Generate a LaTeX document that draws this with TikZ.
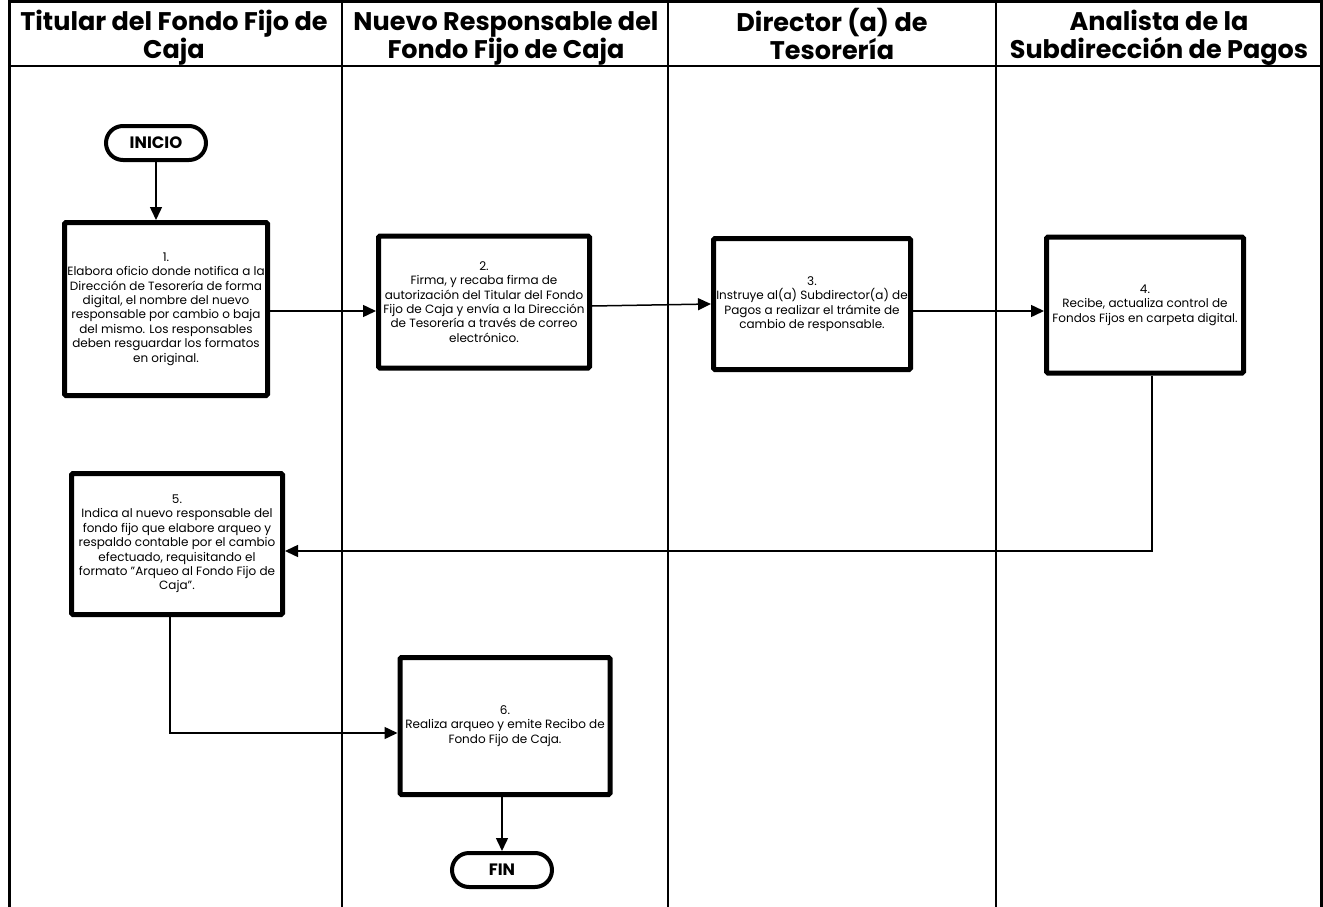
\documentclass[tikz,border=0pt]{standalone}
\usepackage{fontspec}
\setmainfont{Poppins}
\usetikzlibrary{arrows.meta,shapes.misc}
\newcommand\htop{\rule{0pt}{22pt}}
\newcommand\hbot{\rule[-10pt]{0pt}{10pt}}
\begin{document}
\begin{tikzpicture}[x=1pt,y=-1pt,
  lane/.style={line width=2pt},
  hdr/.style={font={\fontsize{25.5}{28}\selectfont\bfseries\lineskiplimit=-50pt}, align=center, inner sep=0pt},
  proc/.style={draw, line width=5pt, rounded corners=1.5pt, align=center, inner sep=0pt,
     font={\fontsize{12}{14.4}\selectfont\lineskiplimit=-50pt}},
  term/.style={draw, line width=4pt, rounded rectangle, minimum width=100pt, minimum height=34pt,
     font=\fontsize{16.5}{18}\selectfont\bfseries, inner sep=0pt},
  flow/.style={line width=1.5pt, -{Triangle[length=13pt,width=12pt]}}]
\useasboundingbox (0,0) rectangle (1323,907);
% lanes
\draw[line width=3pt] (9,907) -- (9,1.5) -- (1321,1.5) -- (1321,907);
\draw[lane] (9,66) -- (1321,66);
\draw[lane] (342,1.5) -- (342,907);
\draw[lane] (668,1.5) -- (668,907);
\draw[lane] (996,1.5) -- (996,907);
\node[hdr] (h1) at (174,39) {\htop Titular del Fondo Fijo de\\Caja\hbot};
\node[hdr] (h2) at (506,39) {\htop Nuevo Responsable del\\Fondo Fijo de Caja\hbot};
\node[hdr] (h3) at (832,39) {\htop Director (a) de\\Tesorería\hbot};
\node[hdr] (h4) at (1159,39) {\htop Analista de la\\Subdirección de Pagos\hbot};
% nodes
\node[term] (ini) at (156,143) {INICIO};
\node[proc, minimum width=203pt, minimum height=173pt] (b1) at (166,309)
 {1.\\Elabora oficio donde notifica a la\\Dirección de Tesorería de forma\\digital, el nombre del nuevo\\responsable por cambio o baja\\del mismo. Los responsables\\deben resguardar los formatos\\en original.};
\node[proc, minimum width=211pt, minimum height=132pt] (b2) at (484,302)
 {2.\\Firma, y recaba firma de\\autorización del Titular del Fondo\\Fijo de Caja y envía a la Dirección\\de Tesorería a través de correo\\electrónico.};
\node[proc, minimum width=197pt, minimum height=131pt] (b3) at (812,304)
 {3.\\Instruye al(a) Subdirector(a) de\\Pagos a realizar el trámite de\\cambio de responsable.};
\node[proc, minimum width=197pt, minimum height=136pt] (b4) at (1145,305)
 {4.\\Recibe, actualiza control de\\Fondos Fijos en carpeta digital.};
\node[proc, minimum width=211pt, minimum height=141pt] (b5) at (177,544)
 {5.\\Indica al nuevo responsable del\\fondo fijo que elabore arqueo y\\respaldo contable por el cambio\\efectuado, requisitando el\\formato "Arqueo al Fondo Fijo de\\Caja".};
\node[proc, minimum width=210pt, minimum height=137pt] (b6) at (505,726)
 {6.\\Realiza arqueo y emite Recibo de\\Fondo Fijo de Caja.};
\node[term] (fin) at (502,870) {FIN};
% connectors
\draw[flow] (ini.south) -- (ini.south |- b1.north);
\draw[flow] (b1.east |- 0,311) -- (b2.west |- 0,311);
\draw[flow] (b2.east |- 0,306) -- (b3.west |- 0,304);
\draw[flow] (b3.east |- 0,311) -- (b4.west |- 0,311);
\draw[flow] (b4.south -| 1152,0) |- (b5.east |- 0,551);
\draw[flow] (b5.south -| 170,0) |- (b6.west |- 0,733);
\draw[flow] (b6.south -| fin) -- (fin);
\end{tikzpicture}
\end{document}
